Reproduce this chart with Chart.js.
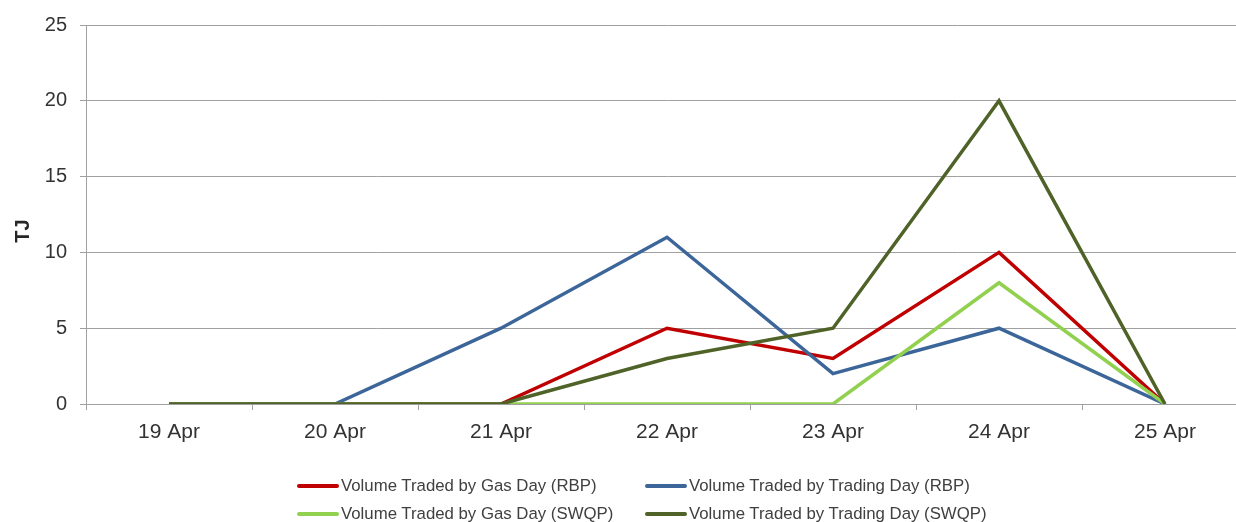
<!DOCTYPE html>
<html>
<head>
<meta charset="utf-8">
<script src="https://cdn.jsdelivr.net/npm/chart.js@4.4.1/dist/chart.umd.min.js"></script>
<style>
  html, body { margin: 0; padding: 0; background: #ffffff; }
  #wrap { position: relative; width: 1236px; height: 522px; overflow: hidden; background: #fff; }
  #chart { position: absolute; left: 0; top: 0; }
  #legend { position: absolute; left: 0; top: 0; width: 1236px; height: 522px; pointer-events: none;
            font-family: "Liberation Sans", Arial, sans-serif; font-size: 16.8px; color: #404040; }
  .item { position: absolute; display: flex; align-items: center; white-space: nowrap; height: 20px; }
  .swatch { width: 42px; height: 4px; margin-right: 2px; border-radius: 2px; }
</style>
</head>
<body>
<div id="wrap">
  <canvas id="chart" width="1250" height="522"></canvas>
  <div id="legend"></div>
</div>
<script>
const categories = ['19 Apr', '20 Apr', '21 Apr', '22 Apr', '23 Apr', '24 Apr', '25 Apr'];
const gasDayRBP = [0, 0, 0, 5, 3, 10, 0];
const tradingDayRBP = [0, 0, 5, 11, 2, 5, 0];
const gasDaySWQP = [0, 0, 0, 0, 0, 8, 0];
const tradingDaySWQP = [0, 0, 0, 3, 5, 20, 0];
const seriesNames = [
  'Volume Traded by Gas Day (RBP)',
  'Volume Traded by Trading Day (RBP)',
  'Volume Traded by Gas Day (SWQP)',
  'Volume Traded by Trading Day (SWQP)'
];
const seriesColors = ['#C00000', '#3C6699', '#92D050', '#4F6228'];
const yTicks = [0, 5, 10, 15, 20, 25];
const yTitle = 'TJ';

const FONT = '"Liberation Sans", Arial, sans-serif';
const seriesData = [gasDayRBP, tradingDayRBP, gasDaySWQP, tradingDaySWQP];

const titlePlugin = {
  id: 'yTitlePlugin',
  afterDraw(chart) {
    const ctx = chart.ctx;
    ctx.save();
    ctx.translate(23, 231);
    ctx.rotate(-Math.PI / 2);
    ctx.font = 'bold 20px ' + FONT;
    ctx.fillStyle = '#262626';
    ctx.textAlign = 'center';
    ctx.textBaseline = 'middle';
    ctx.fillText(yTitle, 0, 0);
    ctx.restore();
  }
};

const chart = new Chart(document.getElementById('chart'), {
  type: 'line',
  data: {
    labels: categories,
    datasets: seriesData.map((d, i) => ({
      label: seriesNames[i],
      data: d,
      borderColor: seriesColors[i],
      backgroundColor: seriesColors[i],
      borderWidth: 3.5,
      pointRadius: 0,
      tension: 0,
      fill: false,
      borderJoinStyle: 'miter',
      order: 4 - i
    }))
  },
  options: {
    responsive: false,
    animation: false,
    devicePixelRatio: 1,
    layout: { padding: { top: 25, right: 2, bottom: 66.8, left: 0 } },
    plugins: {
      legend: { display: false },
      tooltip: { enabled: false }
    },
    scales: {
      x: {
        offset: true,
        grid: { drawOnChartArea: false, drawTicks: true, tickLength: 6, offset: true, color: '#a0a0a0' },
        border: { display: true, color: '#a0a0a0' },
        ticks: { color: '#333333', font: { family: FONT, size: 21 }, padding: 10, maxRotation: 0, autoSkip: false }
      },
      y: {
        min: 0,
        max: 25,
        afterFit(scale) { scale.width = 86; },
        afterBuildTicks(scale) { scale.ticks = yTicks.map(v => ({ value: v })); },
        grid: { color: '#a0a0a0', tickLength: 6, drawTicks: true },
        border: { display: true, color: '#a0a0a0' },
        ticks: { color: '#333333', font: { family: FONT, size: 20 }, padding: 13 }
      }
    }
  },
  plugins: [titlePlugin]
});

// HTML legend built from the series
const legend = document.getElementById('legend');
const colX = [297, 645];
const rowY = [486, 514];
seriesNames.forEach((name, i) => {
  const item = document.createElement('div');
  item.className = 'item';
  item.style.left = colX[i % 2] + 'px';
  item.style.top = (rowY[Math.floor(i / 2)] - 10) + 'px';
  const sw = document.createElement('span');
  sw.className = 'swatch';
  sw.style.background = seriesColors[i];
  const tx = document.createElement('span');
  tx.textContent = name;
  item.appendChild(sw);
  item.appendChild(tx);
  legend.appendChild(item);
});
</script>
</body>
</html>
